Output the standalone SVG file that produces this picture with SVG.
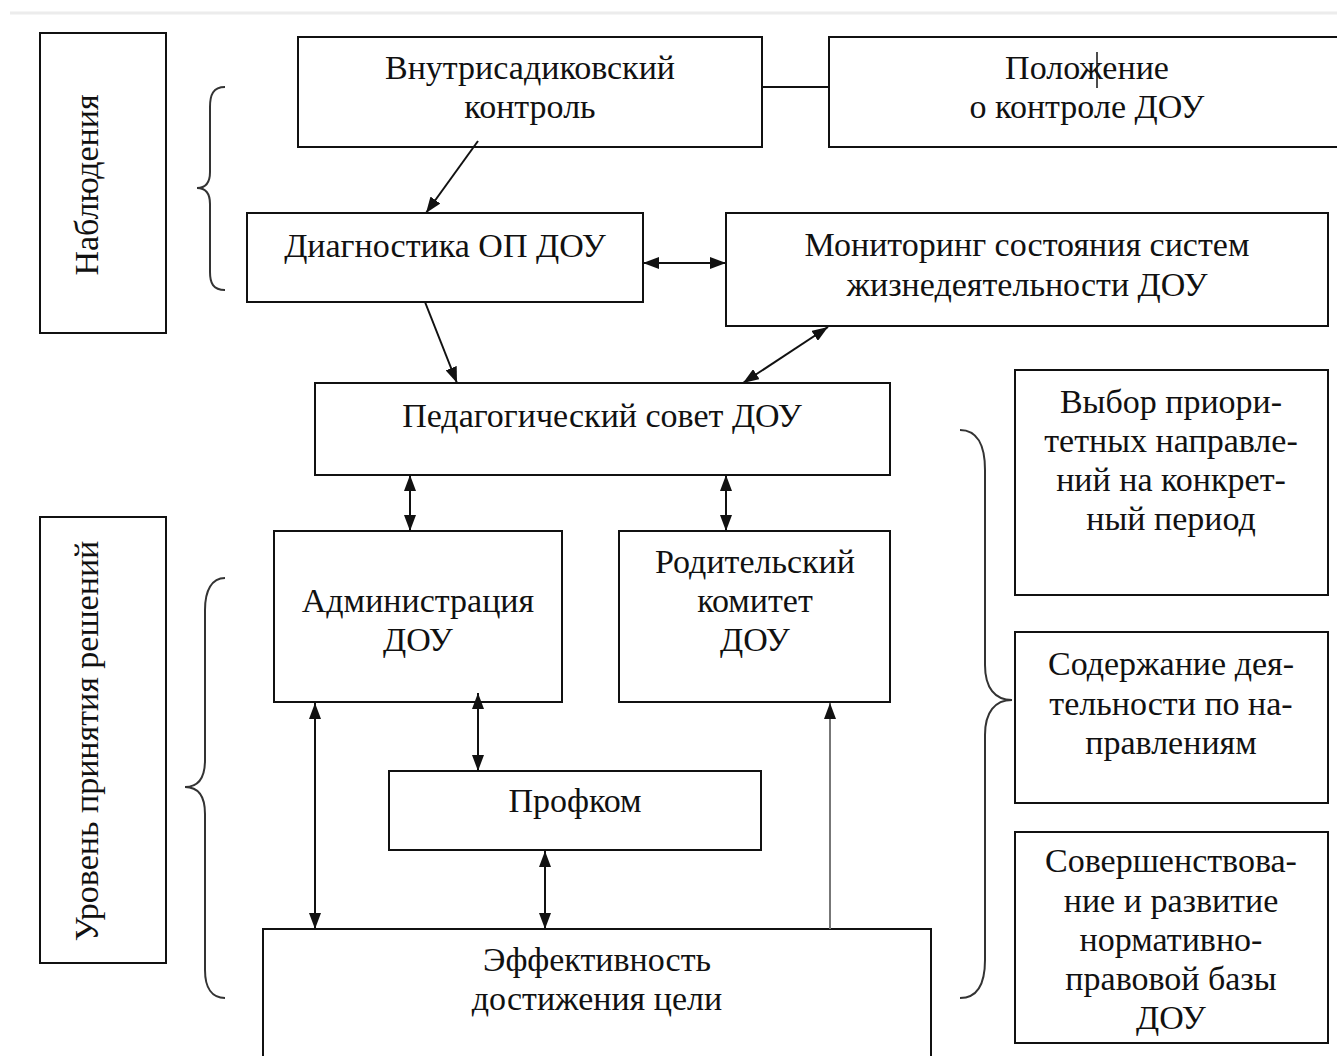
<svg xmlns="http://www.w3.org/2000/svg" width="1337" height="1056" viewBox="0 0 1337 1056">
<style>
.box{fill:#fff;stroke:#111;stroke-width:2}
.t{font-family:"Liberation Serif",Tinos,"Times New Roman","DejaVu Serif",serif;font-size:34px;fill:#111;text-anchor:middle}
.c{stroke:#111;stroke-width:2;fill:none}
.br{stroke:#333;stroke-width:2;fill:none}
</style>
<defs>
<marker id="ah" viewBox="0 0 16 12" refX="16" refY="6" markerWidth="16" markerHeight="12" markerUnits="userSpaceOnUse" orient="auto-start-reverse"><path d="M0,0 L16,6 L0,12 z" fill="#111"/></marker>
</defs>
<rect x="0" y="0" width="1337" height="1056" fill="#fff"/>
<line x1="10" y1="13" x2="1337" y2="13" stroke="#ececec" stroke-width="3"/>

<g id="label-observe">
<rect class="box" x="40" y="33" width="126" height="300"/>
<text class="t" transform="translate(98,185) rotate(-90)">Наблюдения</text>
</g>
<g id="label-decisions">
<rect class="box" x="40" y="517" width="126" height="446"/>
<text class="t" transform="translate(98,741) rotate(-90)">Уровень принятия решений</text>
</g>

<g id="braces">
<path class="br" d="M225,87 C213,87 210,95 210,107 L210,172 C210,182 206,188 197,188 C206,188 210,194 210,204 L210,272 C210,283 213,290 225,290"/>
<path class="br" d="M225,578 C212,578 205,590 205,610 L205,760 C205,778 198,787 185,787 C198,787 205,796 205,814 L205,970 C205,988 212,998 225,998"/>
<path class="br" d="M960,430 C977,430 985,445 985,470 L985,665 C985,688 995,700 1012,700 C995,700 985,712 985,735 L985,960 C985,985 977,998 960,998"/>
</g>

<g id="n-vnutr">
<rect class="box" x="298" y="37" width="464" height="110"/>
<text class="t" x="530" y="79">Внутрисадиковский</text>
<text class="t" x="530" y="118">контроль</text>
</g>
<g id="n-polozh">
<rect class="box" x="829" y="37" width="520" height="110"/>
<text class="t" x="1087" y="79">Положение</text>
<text class="t" x="1087" y="118">о контроле ДОУ</text>
<line x1="1097" y1="52" x2="1097" y2="88" stroke="#111" stroke-width="1.5"/>
</g>
<g id="n-diag">
<rect class="box" x="247" y="213" width="396" height="89"/>
<text class="t" x="445" y="257">Диагностика ОП ДОУ</text>
</g>
<g id="n-monitor">
<rect class="box" x="726" y="213" width="602" height="113"/>
<text class="t" x="1027" y="256">Мониторинг состояния систем</text>
<text class="t" x="1027" y="296">жизнедеятельности ДОУ</text>
</g>
<g id="n-ped">
<rect class="box" x="315" y="383" width="575" height="92"/>
<text class="t" x="602" y="427">Педагогический совет ДОУ</text>
</g>
<g id="n-admin">
<rect class="box" x="274" y="531" width="288" height="171"/>
<text class="t" x="418" y="612">Администрация</text>
<text class="t" x="418" y="651">ДОУ</text>
</g>
<g id="n-parent">
<rect class="box" x="619" y="531" width="271" height="171"/>
<text class="t" x="755" y="573">Родительский</text>
<text class="t" x="755" y="612">комитет</text>
<text class="t" x="755" y="651">ДОУ</text>
</g>
<g id="n-prof">
<rect class="box" x="389" y="771" width="372" height="79"/>
<text class="t" x="575" y="812">Профком</text>
</g>
<g id="n-eff">
<rect class="box" x="263" y="929" width="668" height="140"/>
<text class="t" x="597" y="971">Эффективность</text>
<text class="t" x="597" y="1010">достижения цели</text>
</g>
<g id="n-choice">
<rect class="box" x="1015" y="370" width="313" height="225"/>
<text class="t" x="1171" y="413">Выбор приори-</text>
<text class="t" x="1171" y="452">тетных направле-</text>
<text class="t" x="1171" y="491">ний на конкрет-</text>
<text class="t" x="1171" y="530">ный период</text>
</g>
<g id="n-content">
<rect class="box" x="1015" y="632" width="313" height="171"/>
<text class="t" x="1171" y="675">Содержание дея-</text>
<text class="t" x="1171" y="715">тельности по на-</text>
<text class="t" x="1171" y="754">правлениям</text>
</g>
<g id="n-improve">
<rect class="box" x="1015" y="832" width="313" height="211"/>
<text class="t" x="1171" y="872">Совершенствова-</text>
<text class="t" x="1171" y="912">ние и развитие</text>
<text class="t" x="1171" y="951">нормативно-</text>
<text class="t" x="1171" y="990">правовой базы</text>
<text class="t" x="1171" y="1029">ДОУ</text>
</g>

<g id="connectors">
<line class="c" x1="762" y1="87" x2="829" y2="87"/>
<line class="c" x1="478" y1="141" x2="426" y2="213" marker-end="url(#ah)"/>
<line class="c" x1="643" y1="263" x2="726" y2="263" marker-start="url(#ah)" marker-end="url(#ah)"/>
<line class="c" x1="425" y1="302" x2="457" y2="383" marker-end="url(#ah)"/>
<line class="c" x1="828" y1="327" x2="743" y2="383" marker-start="url(#ah)" marker-end="url(#ah)"/>
<line class="c" x1="410" y1="475" x2="410" y2="531" marker-start="url(#ah)" marker-end="url(#ah)"/>
<line class="c" x1="726" y1="475" x2="726" y2="531" marker-start="url(#ah)" marker-end="url(#ah)"/>
<line class="c" x1="478" y1="693" x2="478" y2="771" marker-start="url(#ah)" marker-end="url(#ah)"/>
<line class="c" x1="315" y1="703" x2="315" y2="929" marker-start="url(#ah)" marker-end="url(#ah)"/>
<line class="c" x1="545" y1="851" x2="545" y2="929" marker-start="url(#ah)" marker-end="url(#ah)"/>
<line x1="830" y1="929" x2="830" y2="703" stroke="#777" stroke-width="2" marker-end="url(#ah)"/>
</g>
</svg>
